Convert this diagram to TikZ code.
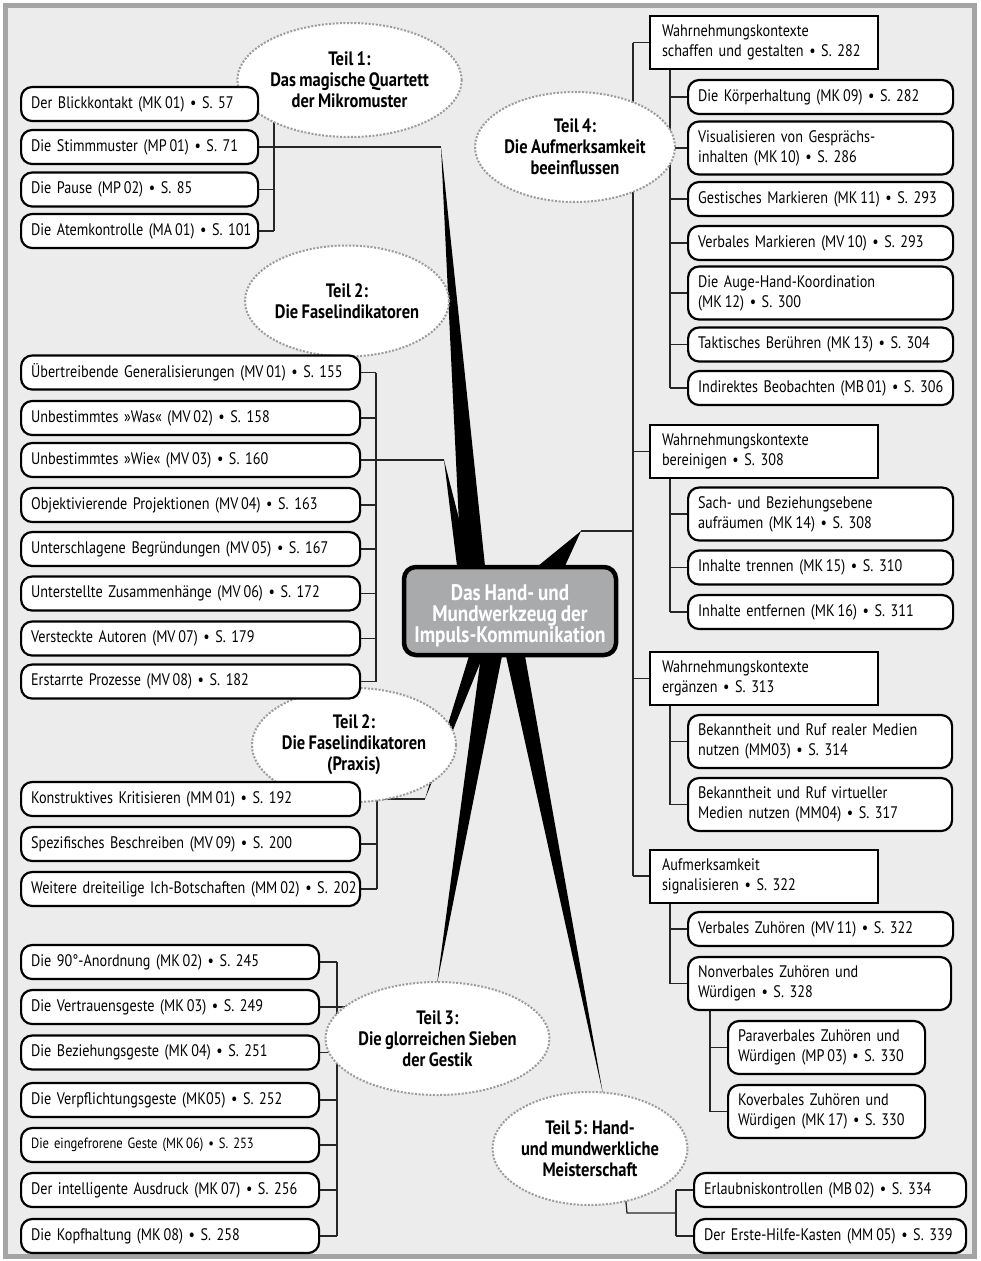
\documentclass[tikz,border=0pt]{standalone}
\usepackage{fontspec}
\setmainfont{PT Sans}[FakeStretch=0.85, WordSpace=0.8]
\usetikzlibrary{shapes.geometric,calc}
\pgfdeclarelayer{bg}\pgfdeclarelayer{lines}
\pgfsetlayers{bg,lines,main}
\definecolor{bggray}{HTML}{EBECEB}
\definecolor{framegray}{HTML}{A4A4A4}
\definecolor{dotgray}{HTML}{9C9C9C}
\definecolor{hubgray}{HTML}{A9AAAC}
\newcommand\onebox[5][]{\node[rb=#3,#1] (#2) at (#4) {\mbox{#5}};}
\newcommand\twobox[5][]{\node[rb=#3,minimum height=53pt,#1] (#2) at (#4) {#5};}
\begin{document}
\begin{tikzpicture}[x=1pt,y=-1pt,
  boxtext/.style={font=\fontsize{16.7}{20}\selectfont},
  rb/.style={draw, line width=2.2pt, rounded corners=11pt, fill=white, anchor=west,
    inner xsep=10pt, inner ysep=0pt, minimum height=34pt, text width=#1, align=left, boxtext},
  sb/.style={draw, line width=2pt, fill=white, anchor=west, inner xsep=12pt, inner ysep=0pt,
    minimum height=53pt, text width=204pt, align=left, boxtext},
  part/.style={ellipse, draw=dotgray, line width=2pt, dash pattern=on 2pt off 1.6pt,
    fill=white, inner sep=0pt, align=center, font=\bfseries\fontsize{19.4}{21}\selectfont},
  hubbox/.style={draw, line width=4.5pt, rounded corners=12pt, fill=hubgray, text=white,
    minimum width=212pt, minimum height=88pt, inner sep=0pt, align=center,
    font=\bfseries\fontsize{22.5}{21}\selectfont},
  link/.style={line width=1.3pt, draw=black!85},
  spoke/.style={fill=black}
]
\useasboundingbox (0,0) rectangle (980,1261);
\begin{pgfonlayer}{bg}
\fill[white] (0,0) rectangle (980,1261);
\fill[framegray] (3,3) rectangle (977,1259);
\fill[bggray] (8,8) rectangle (972,1254);
\end{pgfonlayer}

% ---------- hub ----------
\node[hubbox] (hub) at (510,611) {\rule{0pt}{25pt}Das Hand- und\\Mundwerkzeug der\\Impuls-Kommunikation};

% ---------- parts (ellipses) ----------
\node[part, minimum width=183pt, minimum height=114pt] (e1) at (349.5,80) {Teil 1:\\Das magische Quartett\\der Mikromuster};
\node[part, minimum width=180pt, minimum height=111pt] (e2) at (347,301) {Teil 2:\\Die Faselindikatoren};
\node[part, minimum width=182pt, minimum height=114pt] (e2p) at (354,745) {Teil 2:\\Die Faselindikatoren\\(Praxis)};
\node[part, minimum width=181pt, minimum height=113pt] (e3) at (437.5,1038.5) {Teil 3:\\Die glorreichen Sieben\\der Gestik};
\node[part, minimum width=176pt, minimum height=110pt] (e4) at (575,147) {Teil 4:\\Die Aufmerksamkeit\\beeinflussen};
\node[part, minimum width=184pt, minimum height=113pt] (e5) at (590,1148.5) {Teil 5: Hand-\\und mundwerkliche\\Meisterschaft};

% ---------- Teil 1 ----------
\onebox{a1}{217pt}{20,104}{Der Blickkontakt (MK\,01) • S. 57}
\onebox{a2}{217pt}{20,147}{Die Stimmmuster (MP\,01) • S. 71}
\onebox{a3}{217pt}{20,189.5}{Die Pause (MP\,02) • S. 85}
\onebox{a4}{217pt}{20,231}{Die Atemkontrolle (MA\,01) • S. 101}

% ---------- Teil 2 ----------
\onebox{b1}{319pt}{20,372.5}{Übertreibende Generalisierungen (MV\,01) • S. 155}
\onebox{b2}{319pt}{20,418}{Unbestimmtes »Was« (MV\,02) • S. 158}
\onebox{b3}{319pt}{20,460}{Unbestimmtes »Wie« (MV\,03) • S. 160}
\onebox{b4}{319pt}{20,505}{Objektivierende Projektionen (MV\,04) • S. 163}
\onebox{b5}{319pt}{20,549}{Unterschlagene Begründungen (MV\,05) • S. 167}
\onebox{b6}{319pt}{20,593.5}{Unterstellte Zusammenhänge (MV\,06) • S. 172}
\onebox{b7}{319pt}{20,638.5}{Versteckte Autoren (MV\,07) • S. 179}
\onebox{b8}{319pt}{20,681.5}{Erstarrte Prozesse (MV\,08) • S. 182}

% ---------- Teil 2 Praxis ----------
\onebox{c1}{319pt}{20,799}{Konstruktives Kritisieren (MM\,01) • S. 192}
\onebox{c2}{319pt}{20,844}{Spezifisches Beschreiben (MV\,09) • S. 200}
\onebox{c3}{319pt}{20,889}{Weitere dreiteilige Ich-Botschaften (MM\,02) • S. 202}

% ---------- Teil 3 ----------
\onebox{d1}{278pt}{20,962}{Die 90°-Anordnung (MK\,02) • S. 245}
\onebox{d2}{278pt}{20,1007}{Die Vertrauensgeste (MK\,03) • S. 249}
\onebox{d3}{278pt}{20,1052.5}{Die Beziehungsgeste (MK\,04) • S. 251}
\onebox{d4}{278pt}{20,1100}{Die Verpflichtungsgeste (MK05) • S. 252}
\onebox[font=\fontsize{14.8}{18}\selectfont]{d5}{278pt}{20,1145}{Die eingefrorene Geste (MK\,06) • S. 253}
\onebox{d6}{278pt}{20,1190}{Der intelligente Ausdruck (MK\,07) • S. 256}
\onebox{d7}{278pt}{20,1236}{Die Kopfhaltung (MK\,08) • S. 258}

% ---------- Teil 4 ----------
\node[sb] (s1) at (649,42.5) {Wahrnehmungskontexte\\schaffen und gestalten • S. 282};
\onebox{f1}{245pt}{687,97}{Die Körperhaltung (MK\,09) • S. 282}
\twobox{f2}{245pt}{687,148}{Visualisieren von Gesprächs-\\inhalten (MK\,10) • S. 286}
\onebox{f3}{245pt}{687,199}{Gestisches Markieren (MK\,11) • S. 293}
\onebox{f4}{245pt}{687,243}{Verbales Markieren (MV\,10) • S. 293}
\twobox{f5}{245pt}{687,293}{Die Auge-Hand-Koordination\\(MK\,12) • S. 300}
\onebox{f6}{245pt}{687,344.5}{Taktisches Berühren (MK\,13) • S. 304}
\onebox{f7}{245pt}{687,388}{Indirektes Beobachten (MB\,01) • S. 306}

\node[sb] (s2) at (649,451.5) {Wahrnehmungskontexte\\bereinigen • S. 308};
\twobox{g1}{245pt}{687,514}{Sach- und Beziehungsebene\\aufräumen (MK\,14) • S. 308}
\onebox{g2}{245pt}{687,567.5}{Inhalte trennen (MK\,15) • S. 310}
\onebox{g3}{245pt}{687,612}{Inhalte entfernen (MK\,16) • S. 311}

\node[sb] (s3) at (649,678.5) {Wahrnehmungskontexte\\ergänzen • S. 313};
\twobox{h1}{244pt}{687,741.5}{Bekanntheit und Ruf realer Medien\\nutzen (MM03) • S. 314}
\twobox{h2}{244pt}{687,804.5}{Bekanntheit und Ruf virtueller\\Medien nutzen (MM04) • S. 317}

\node[sb] (s4) at (649,876) {Aufmerksamkeit\\signalisieren • S. 322};
\onebox{i1}{245pt}{687,929}{Verbales Zuhören (MV\,11) • S. 322}
\twobox{i2}{243pt}{687,983.5}{Nonverbales Zuhören und\\Würdigen • S. 328}
\twobox{j1}{177pt}{727,1047.5}{Paraverbales Zuhören und\\Würdigen (MP\,03) • S. 330}
\twobox{j2}{177pt}{727,1111.5}{Koverbales Zuhören und\\Würdigen (MK\,17) • S. 330}

% ---------- Teil 5 ----------
\onebox{k1}{252pt}{693,1190}{Erlaubniskontrollen (MB\,02) • S. 334}
\onebox{k2}{252pt}{693,1236}{Der Erste-Hilfe-Kasten (MM\,05) • S. 339}

% ---------- coordinates ----------
\coordinate (x1) at (274,0);
\coordinate (x2) at (376,0);
\coordinate (x2p) at (377,0);
\coordinate (x3) at (337,0);
\coordinate (x4) at (633,0);
\coordinate (x4s) at (670,0);
\coordinate (x4ss) at (710,0);
\coordinate (x5) at (676,0);

\coordinate (t1) at (441,147);
\coordinate (t2) at (444,460);
\coordinate (t2p) at (425,799);
\coordinate (t3) at (437,984);
\coordinate (t4) at (581,531);
\coordinate (t5) at (603,1094);
\coordinate (e5a) at (625,1192);
\coordinate (e5b) at (627,1213);

\begin{pgfonlayer}{lines}
% spokes
\fill[spoke] (t1) -- (461,566) -- (485,566) -- cycle;
\fill[spoke] (t2) -- (457,566) -- (471,566) -- cycle;
\fill[spoke] (t4) -- (538,566) -- (565,566) -- cycle;
\fill[spoke] (t2p) -- (469,656) -- (483,656) -- cycle;
\fill[spoke] (t3) -- (481,656) -- (502,656) -- cycle;
\fill[spoke] (t5) -- (506,656) -- (525,656) -- cycle;

% Teil 1
\draw[link] (a1.east) -- (a1.east -| x1);
\draw[link] (a2.east) -- (t1);
\draw[link] (a3.east) -- (a3.east -| x1);
\draw[link] (a4.east) -- (a4.east -| x1);
\draw[link] (a1.east -| x1) -- (a4.east -| x1);
% Teil 2
\foreach \n in {b1,b2,b4,b5,b6,b7,b8} \draw[link] (\n.east) -- (\n.east -| x2);
\draw[link] (b3.east) -- (t2);
\draw[link] (b1.east -| x2) -- (b8.east -| x2);
% Praxis
\draw[link] (c1.east) -- (t2p);
\draw[link] (c2.east) -- (c2.east -| x2p);
\draw[link] (c3.east) -- (c3.east -| x2p);
\draw[link] (c1.east -| x2p) -- (c3.east -| x2p);
% Teil 3
\foreach \n in {d1,d3,d4,d5,d6,d7} \draw[link] (\n.east) -- (\n.east -| x3);
\draw[link] (d2.east) -- (d2.east -| e3.center);
\draw[link] (d1.east -| x3) -- (d7.east -| x3);
% Teil 4
\draw[link] (t4) -- (t4 -| x4);
\foreach \n in {s1,s2,s3,s4} \draw[link] (\n.west -| x4) -- (\n.west);
\draw[link] (s1.west -| x4) -- (s4.west -| x4);
\foreach \n in {f1,f2,f3,f4,f5,f6,f7} \draw[link] (\n.west -| x4s) -- (\n.west);
\draw[link] (s1.south -| x4s) -- (f7.west -| x4s);
\foreach \n in {g1,g2,g3} \draw[link] (\n.west -| x4s) -- (\n.west);
\draw[link] (s2.south -| x4s) -- (g3.west -| x4s);
\foreach \n in {h1,h2} \draw[link] (\n.west -| x4s) -- (\n.west);
\draw[link] (s3.south -| x4s) -- (h2.west -| x4s);
\foreach \n in {i1,i2} \draw[link] (\n.west -| x4s) -- (\n.west);
\draw[link] (s4.south -| x4s) -- (i2.west -| x4s);
\foreach \n in {j1,j2} \draw[link] (\n.west -| x4ss) -- (\n.west);
\draw[link] (i2.south -| x4ss) -- (j2.west -| x4ss);
% Teil 5
\draw[link] (e5a) -- (e5b) -- (e5b -| x5);
\foreach \n in {k1,k2} \draw[link] (\n.west -| x5) -- (\n.west);
\draw[link] (k1.west -| x5) -- (k2.west -| x5);
\end{pgfonlayer}
\end{tikzpicture}
\end{document}
